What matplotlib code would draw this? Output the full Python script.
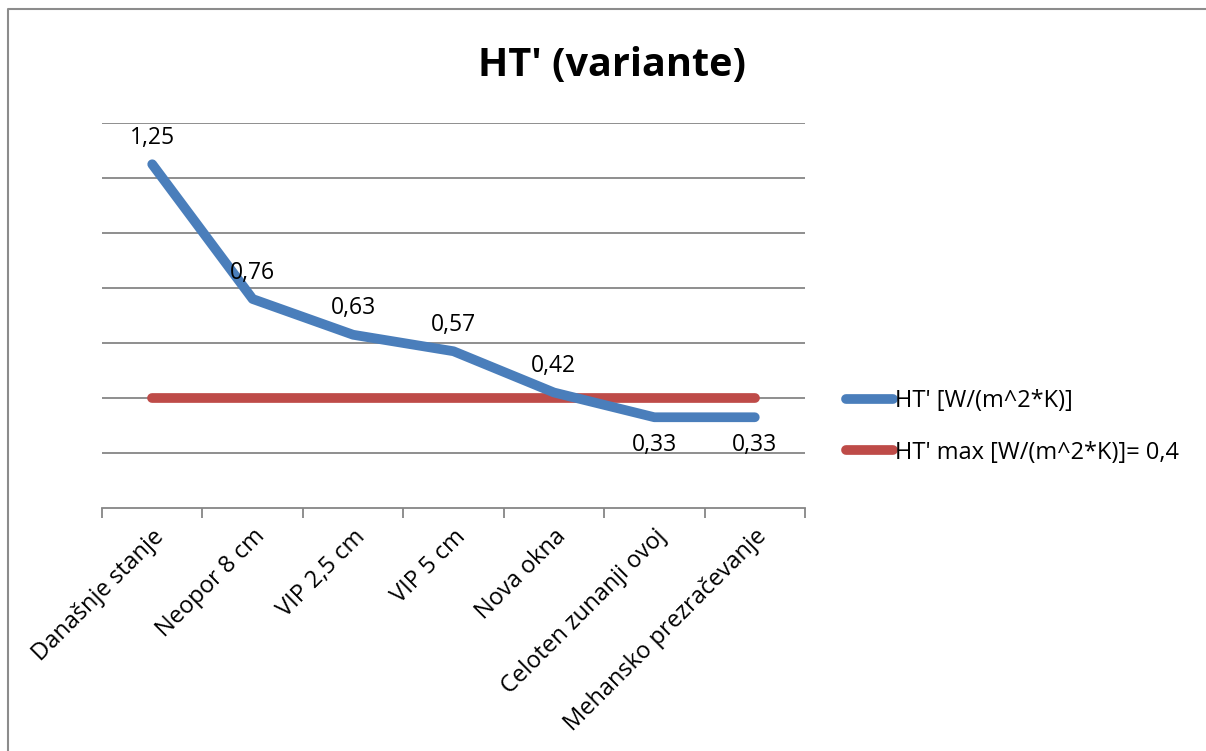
import matplotlib
matplotlib.use("Agg")
import matplotlib.pyplot as plt
from matplotlib.lines import Line2D

plt.rcParams['font.family'] = ['Open Sans', 'DejaVu Sans']

categories = ["Današnje stanje", "Neopor 8 cm", "VIP 2,5 cm", "VIP 5 cm",
              "Nova okna", "Celoten zunanji ovoj", "Mehansko prezračevanje"]
ht_values = [1.25, 0.76, 0.63, 0.57, 0.42, 0.33, 0.33]
ht_max = [0.4, 0.4, 0.4, 0.4, 0.4, 0.4, 0.4]
label_below = [False, False, False, False, False, True, True]

blue = '#4A7EBB'
red = '#BE4B48'
grid_col = '#868686'

fig = plt.figure(figsize=(12.06, 7.51), dpi=100)
ax = fig.add_axes([102 / 1206, 1 - 508 / 751, 703 / 1206, 385 / 751])

# chart frame (Excel style border), only left and top edges visible
bx, by = 8 / 1206, 1 - 9 / 751
fig.add_artist(Line2D([bx, bx, 1.0], [0.0, by, by], transform=fig.transFigure,
                      color='#8c8c8c', linewidth=1.5))

x = list(range(len(categories)))
ax.plot(x, ht_values, color=blue, linewidth=7, solid_capstyle='round',
        solid_joinstyle='round', label="HT' [W/(m^2*K)]", zorder=3)
ax.plot(x, ht_max, color=red, linewidth=7, solid_capstyle='round',
        label="HT' max [W/(m^2*K)]= 0,4", zorder=2)

for xi, v, below in zip(x, ht_values, label_below):
    off = -20 if below else 19
    ax.annotate(f"{v:.2f}".replace('.', ','), (xi, v), xytext=(0, off),
                textcoords='offset points', ha='center', va='center',
                fontsize=16.5, color='black')

ax.set_xlim(-0.5, len(categories) - 0.5)
ax.set_ylim(0, 1.4)
ax.set_yticks([0.2, 0.4, 0.6, 0.8, 1.0, 1.2, 1.4])
ax.yaxis.grid(True, color=grid_col, linewidth=1.3)
ax.tick_params(axis='y', left=False, labelleft=False)
ax.set_axisbelow(True)

ax.set_xticks([i - 0.5 for i in range(len(categories) + 1)], minor=False)
ax.set_xticklabels([])
ax.set_xticks(x, minor=True)
ax.set_xticklabels(categories, minor=True, rotation=45, ha='right',
                   rotation_mode='anchor', fontsize=17)
ax.tick_params(axis='x', which='major', direction='out', length=7,
               color=grid_col, width=1.3)
ax.tick_params(axis='x', which='minor', length=0, pad=12)

for s in ['top', 'right', 'left']:
    ax.spines[s].set_visible(False)
ax.spines['bottom'].set_color(grid_col)
ax.spines['bottom'].set_linewidth(1.3)

fig.text(612 / 1206, 1 - 65 / 751, "HT' (variante)", ha='center', va='center',
         fontsize=28.5, fontweight='bold')

ax.legend(loc='center left', bbox_to_anchor=(825 / 1206, 1 - 427 / 751),
          bbox_transform=fig.transFigure, frameon=False, fontsize=17,
          handlelength=2.0, handletextpad=0.05, labelspacing=1.15)

fig.savefig('out.png', dpi=100)
